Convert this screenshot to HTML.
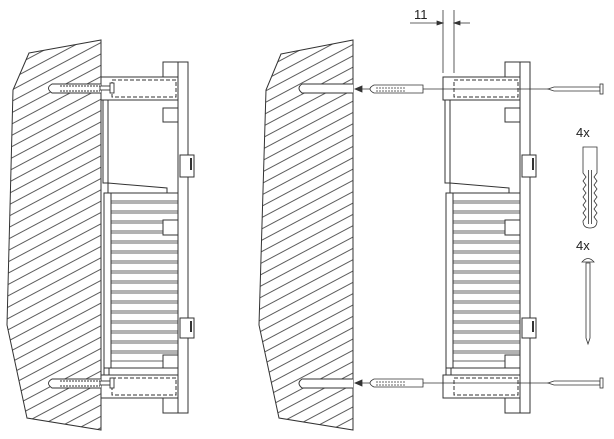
<!DOCTYPE html>
<html><head><meta charset="utf-8"><style>
html,body{margin:0;padding:0;background:#fff;width:614px;height:439px;overflow:hidden}
text{font-family:"Liberation Sans",sans-serif;fill:#222}
</style></head><body>
<svg width="614" height="439" viewBox="0 0 614 439" xmlns="http://www.w3.org/2000/svg">
<defs>
<pattern id="h" patternUnits="userSpaceOnUse" width="10" height="10" patternTransform="rotate(-28)">
<line x1="0" y1="5" x2="10" y2="5" stroke="#333" stroke-width="0.8"/>
</pattern>
<g id="dev" fill="#fff" stroke="#333" stroke-width="1">
<rect x="178" y="62" width="10" height="351"/>
<rect x="163" y="62" width="15" height="15"/>
<rect x="163" y="398" width="15" height="15"/>
<rect x="101" y="77" width="77" height="23"/>
<rect x="112" y="80" width="64" height="17" stroke-dasharray="4,2"/>
<rect x="101" y="375" width="77" height="23"/>
<rect x="112" y="378" width="64" height="17" stroke-dasharray="4,2"/>
<rect x="103" y="100" width="5" height="83"/>
<rect x="163" y="108" width="15" height="14"/>
<rect x="180" y="155" width="14" height="22"/>
<line x1="191" y1="158" x2="191" y2="170" stroke-width="2"/>
<rect x="180" y="318" width="14" height="20"/>
<line x1="191" y1="321" x2="191" y2="332" stroke-width="2"/>
<polygon points="108,183 167,188 167,193 108,193"/>
<rect x="104" y="193" width="74" height="175"/>
<line x1="111" y1="193" x2="111" y2="368"/>
<g stroke-width="0.8">
<line x1="111" y1="201" x2="178" y2="201"/><line x1="111" y1="203" x2="178" y2="203"/>
<line x1="111" y1="211" x2="178" y2="211"/><line x1="111" y1="213" x2="178" y2="213"/>
<line x1="111" y1="221" x2="178" y2="221"/><line x1="111" y1="223" x2="178" y2="223"/>
<line x1="111" y1="231" x2="178" y2="231"/><line x1="111" y1="233" x2="178" y2="233"/>
<line x1="111" y1="241" x2="178" y2="241"/><line x1="111" y1="243" x2="178" y2="243"/>
<line x1="111" y1="251" x2="178" y2="251"/><line x1="111" y1="253" x2="178" y2="253"/>
<line x1="111" y1="261" x2="178" y2="261"/><line x1="111" y1="263" x2="178" y2="263"/>
<line x1="111" y1="271" x2="178" y2="271"/><line x1="111" y1="273" x2="178" y2="273"/>
<line x1="111" y1="281" x2="178" y2="281"/><line x1="111" y1="283" x2="178" y2="283"/>
<line x1="111" y1="291" x2="178" y2="291"/><line x1="111" y1="293" x2="178" y2="293"/>
<line x1="111" y1="301" x2="178" y2="301"/><line x1="111" y1="303" x2="178" y2="303"/>
<line x1="111" y1="311" x2="178" y2="311"/><line x1="111" y1="313" x2="178" y2="313"/>
<line x1="111" y1="321" x2="178" y2="321"/><line x1="111" y1="323" x2="178" y2="323"/>
<line x1="111" y1="331" x2="178" y2="331"/><line x1="111" y1="333" x2="178" y2="333"/>
<line x1="111" y1="341" x2="178" y2="341"/><line x1="111" y1="343" x2="178" y2="343"/>
<line x1="111" y1="351" x2="178" y2="351"/><line x1="111" y1="353" x2="178" y2="353"/>
<line x1="111" y1="361" x2="178" y2="361"/>
</g>
<rect x="163" y="220" width="15" height="15"/>
<rect x="163" y="355" width="15" height="13"/>
<rect x="104" y="368" width="5" height="7"/>
</g>
</defs>
<polygon points="29,53 101,40 101,430 27,418 7,325 13,90" fill="url(#h)" stroke="#333"/>
<polygon points="281,54 353,40 353,430 279,418 259,325 266,90" fill="url(#h)" stroke="#333"/>
<path d="M353,84 H302 Q296,88 302,93 H353" fill="#fff" stroke="#333"/>
<path d="M353,379 H302 Q296,383 302,388 H353" fill="#fff" stroke="#333"/>
<use href="#dev"/>
<use href="#dev" transform="translate(342,0)"/>
<g stroke="#333" fill="#fff" stroke-width="0.9">
<path d="M101,84 H52 Q45,88 52,93 H101"/><line x1="60" y1="86" x2="100" y2="86" stroke-dasharray="2,1"/><line x1="60" y1="91" x2="100" y2="91" stroke-dasharray="2,1"/>
<rect x="100" y="86" width="12" height="4"/><rect x="110" y="83" width="4" height="10"/>
<path d="M101,379 H52 Q45,383 52,388 H101"/><line x1="60" y1="381" x2="100" y2="381" stroke-dasharray="2,1"/><line x1="60" y1="386" x2="100" y2="386" stroke-dasharray="2,1"/>
<rect x="100" y="381" width="12" height="4"/><rect x="110" y="378" width="4" height="10"/>
</g>
<g stroke="#333" stroke-width="0.8" fill="#fff">
<line x1="360" y1="89" x2="548" y2="89"/><line x1="360" y1="383" x2="548" y2="383"/>
<polygon points="355,89 362,86 362,92" fill="#333"/><polygon points="355,383 362,380 362,386" fill="#333"/>
<path d="M423,85 H374 Q366,89 374,93 H423 Z"/><line x1="376" y1="88" x2="405" y2="88" stroke-dasharray="2,1"/><line x1="376" y1="91" x2="405" y2="91" stroke-dasharray="2,1"/>
<path d="M423,379 H374 Q366,383 374,387 H423 Z"/><line x1="376" y1="382" x2="405" y2="382" stroke-dasharray="2,1"/><line x1="376" y1="385" x2="405" y2="385" stroke-dasharray="2,1"/>
<path d="M548,89 L554,87 H600 V91 H554 Z"/><rect x="600" y="84" width="3" height="10"/>
<path d="M548,383 L554,381 H600 V385 H554 Z"/><rect x="600" y="378" width="3" height="10"/>
<path d="M583,147 H597 V173 L594,177 L597,181 L594,185 L597,189 L594,193 L597,197 L594,201 L597,205 L594,209 L597,213 L594,217 L597,221 Q597,228 590,228 Q583,228 583,221 L586,217 L583,213 L586,209 L583,205 L586,201 L583,197 L586,193 L583,189 L586,185 L583,181 L586,177 L583,173 Z"/>
<line x1="588.5" y1="170" x2="588.5" y2="224"/><line x1="591.5" y1="170" x2="591.5" y2="224"/>
<path d="M582,262 Q588,255 594,262 Z"/><path d="M586,263 H590 V338 L588,344 L586,338 Z"/>
</g>
<text x="576" y="137" font-size="13">4x</text>
<text x="576" y="250" font-size="13">4x</text>
<g stroke="#333" stroke-width="0.8">
<line x1="443" y1="10" x2="443" y2="73"/><line x1="454" y1="10" x2="454" y2="73"/>
<line x1="410" y1="23" x2="443" y2="23"/><line x1="454" y1="23" x2="470" y2="23"/>
<polygon points="443,23 437,21 437,25" fill="#333"/><polygon points="454,23 460,21 460,25" fill="#333"/>
</g>
<text x="414" y="19" font-size="13">11</text>
</svg>
</body></html>
